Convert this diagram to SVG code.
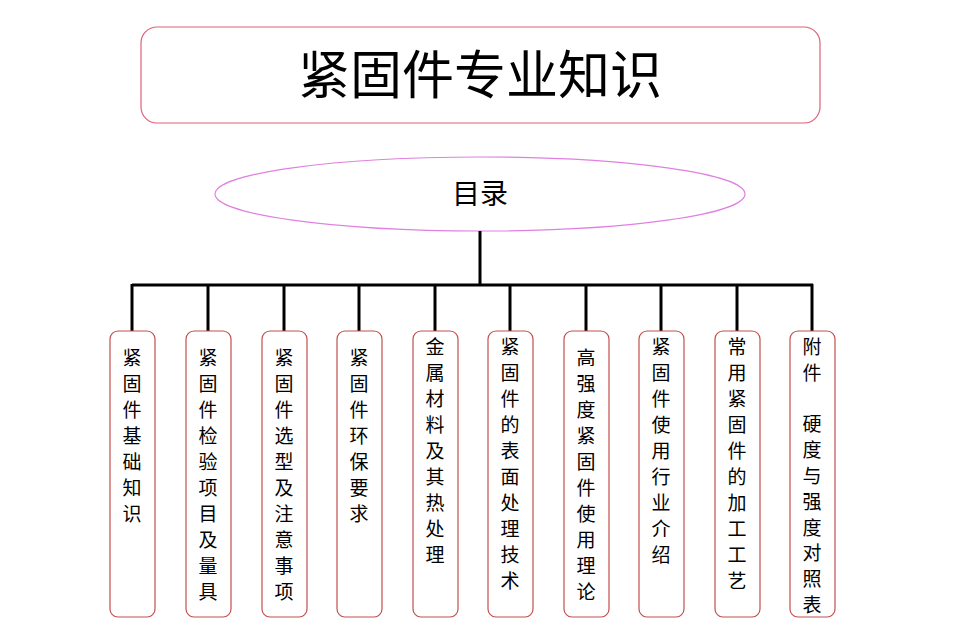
<svg xmlns="http://www.w3.org/2000/svg" width="960" height="639" viewBox="0 0 960 639">
<style>
text{font-family:"Noto Sans CJK SC","Liberation Sans",sans-serif;fill:#000}
.b{fill:#fff;stroke:#c0504d;stroke-width:1.2}
.t{font-size:19px;text-anchor:middle}
.c{fill:none;stroke:#000;stroke-width:3}
</style>
<rect width="960" height="639" fill="#fff"/>
<g id="title"><rect x="141" y="27" width="679" height="96" rx="16" fill="#fff" stroke="#e0607a" stroke-width="1.2"/>
<text x="480" y="94" font-size="52" text-anchor="middle">紧固件专业知识</text></g>
<g id="toc"><ellipse cx="480" cy="194" rx="265" ry="37" fill="#fff" stroke="#e080e0" stroke-width="1.2"/>
<text x="480" y="204" font-size="28" text-anchor="middle">目录</text></g>
<g id="connectors">
<path class="c" d="M480 231V285M132 285H813M132 284V331M208 284V331M284 284V331M359 284V331M435 284V331M510 284V331M586 284V331M661 284V331M737 284V331M812 284V331"/>
</g>
<g id="n1"><rect class="b" x="110" y="331" width="45" height="286" rx="8"/><text class="t" x="132" y="365"><tspan x="132">紧</tspan><tspan x="132" dy="26">固</tspan><tspan x="132" dy="26">件</tspan><tspan x="132" dy="26">基</tspan><tspan x="132" dy="26">础</tspan><tspan x="132" dy="26">知</tspan><tspan x="132" dy="26">识</tspan></text></g>
<g id="n2"><rect class="b" x="186" y="331" width="45" height="286" rx="8"/><text class="t" x="208" y="365"><tspan x="208">紧</tspan><tspan x="208" dy="26">固</tspan><tspan x="208" dy="26">件</tspan><tspan x="208" dy="26">检</tspan><tspan x="208" dy="26">验</tspan><tspan x="208" dy="26">项</tspan><tspan x="208" dy="26">目</tspan><tspan x="208" dy="26">及</tspan><tspan x="208" dy="26">量</tspan><tspan x="208" dy="26">具</tspan></text></g>
<g id="n3"><rect class="b" x="262" y="331" width="45" height="286" rx="8"/><text class="t" x="284" y="365"><tspan x="284">紧</tspan><tspan x="284" dy="26">固</tspan><tspan x="284" dy="26">件</tspan><tspan x="284" dy="26">选</tspan><tspan x="284" dy="26">型</tspan><tspan x="284" dy="26">及</tspan><tspan x="284" dy="26">注</tspan><tspan x="284" dy="26">意</tspan><tspan x="284" dy="26">事</tspan><tspan x="284" dy="26">项</tspan></text></g>
<g id="n4"><rect class="b" x="337" y="331" width="45" height="286" rx="8"/><text class="t" x="359" y="365"><tspan x="359">紧</tspan><tspan x="359" dy="26">固</tspan><tspan x="359" dy="26">件</tspan><tspan x="359" dy="26">环</tspan><tspan x="359" dy="26">保</tspan><tspan x="359" dy="26">要</tspan><tspan x="359" dy="26">求</tspan></text></g>
<g id="n5"><rect class="b" x="413" y="331" width="45" height="286" rx="8"/><text class="t" x="435" y="354"><tspan x="435">金</tspan><tspan x="435" dy="26">属</tspan><tspan x="435" dy="26">材</tspan><tspan x="435" dy="26">料</tspan><tspan x="435" dy="26">及</tspan><tspan x="435" dy="26">其</tspan><tspan x="435" dy="26">热</tspan><tspan x="435" dy="26">处</tspan><tspan x="435" dy="26">理</tspan></text></g>
<g id="n6"><rect class="b" x="488" y="331" width="45" height="286" rx="8"/><text class="t" x="510" y="354"><tspan x="510">紧</tspan><tspan x="510" dy="26">固</tspan><tspan x="510" dy="26">件</tspan><tspan x="510" dy="26">的</tspan><tspan x="510" dy="26">表</tspan><tspan x="510" dy="26">面</tspan><tspan x="510" dy="26">处</tspan><tspan x="510" dy="26">理</tspan><tspan x="510" dy="26">技</tspan><tspan x="510" dy="26">术</tspan></text></g>
<g id="n7"><rect class="b" x="564" y="331" width="45" height="286" rx="8"/><text class="t" x="586" y="365"><tspan x="586">高</tspan><tspan x="586" dy="26">强</tspan><tspan x="586" dy="26">度</tspan><tspan x="586" dy="26">紧</tspan><tspan x="586" dy="26">固</tspan><tspan x="586" dy="26">件</tspan><tspan x="586" dy="26">使</tspan><tspan x="586" dy="26">用</tspan><tspan x="586" dy="26">理</tspan><tspan x="586" dy="26">论</tspan></text></g>
<g id="n8"><rect class="b" x="639" y="331" width="45" height="286" rx="8"/><text class="t" x="661" y="354"><tspan x="661">紧</tspan><tspan x="661" dy="26">固</tspan><tspan x="661" dy="26">件</tspan><tspan x="661" dy="26">使</tspan><tspan x="661" dy="26">用</tspan><tspan x="661" dy="26">行</tspan><tspan x="661" dy="26">业</tspan><tspan x="661" dy="26">介</tspan><tspan x="661" dy="26">绍</tspan></text></g>
<g id="n9"><rect class="b" x="715" y="331" width="45" height="286" rx="8"/><text class="t" x="737" y="354"><tspan x="737">常</tspan><tspan x="737" dy="26">用</tspan><tspan x="737" dy="26">紧</tspan><tspan x="737" dy="26">固</tspan><tspan x="737" dy="26">件</tspan><tspan x="737" dy="26">的</tspan><tspan x="737" dy="26">加</tspan><tspan x="737" dy="26">工</tspan><tspan x="737" dy="26">工</tspan><tspan x="737" dy="26">艺</tspan></text></g>
<g id="n10"><rect class="b" x="790" y="331" width="45" height="286" rx="8"/><text class="t" x="812" y="354"><tspan x="812">附</tspan><tspan x="812" dy="25.8">件</tspan><tspan x="812" dy="51.6">硬</tspan><tspan x="812" dy="25.8">度</tspan><tspan x="812" dy="25.8">与</tspan><tspan x="812" dy="25.8">强</tspan><tspan x="812" dy="25.8">度</tspan><tspan x="812" dy="25.8">对</tspan><tspan x="812" dy="25.8">照</tspan><tspan x="812" dy="25.8">表</tspan></text></g>
</svg>
